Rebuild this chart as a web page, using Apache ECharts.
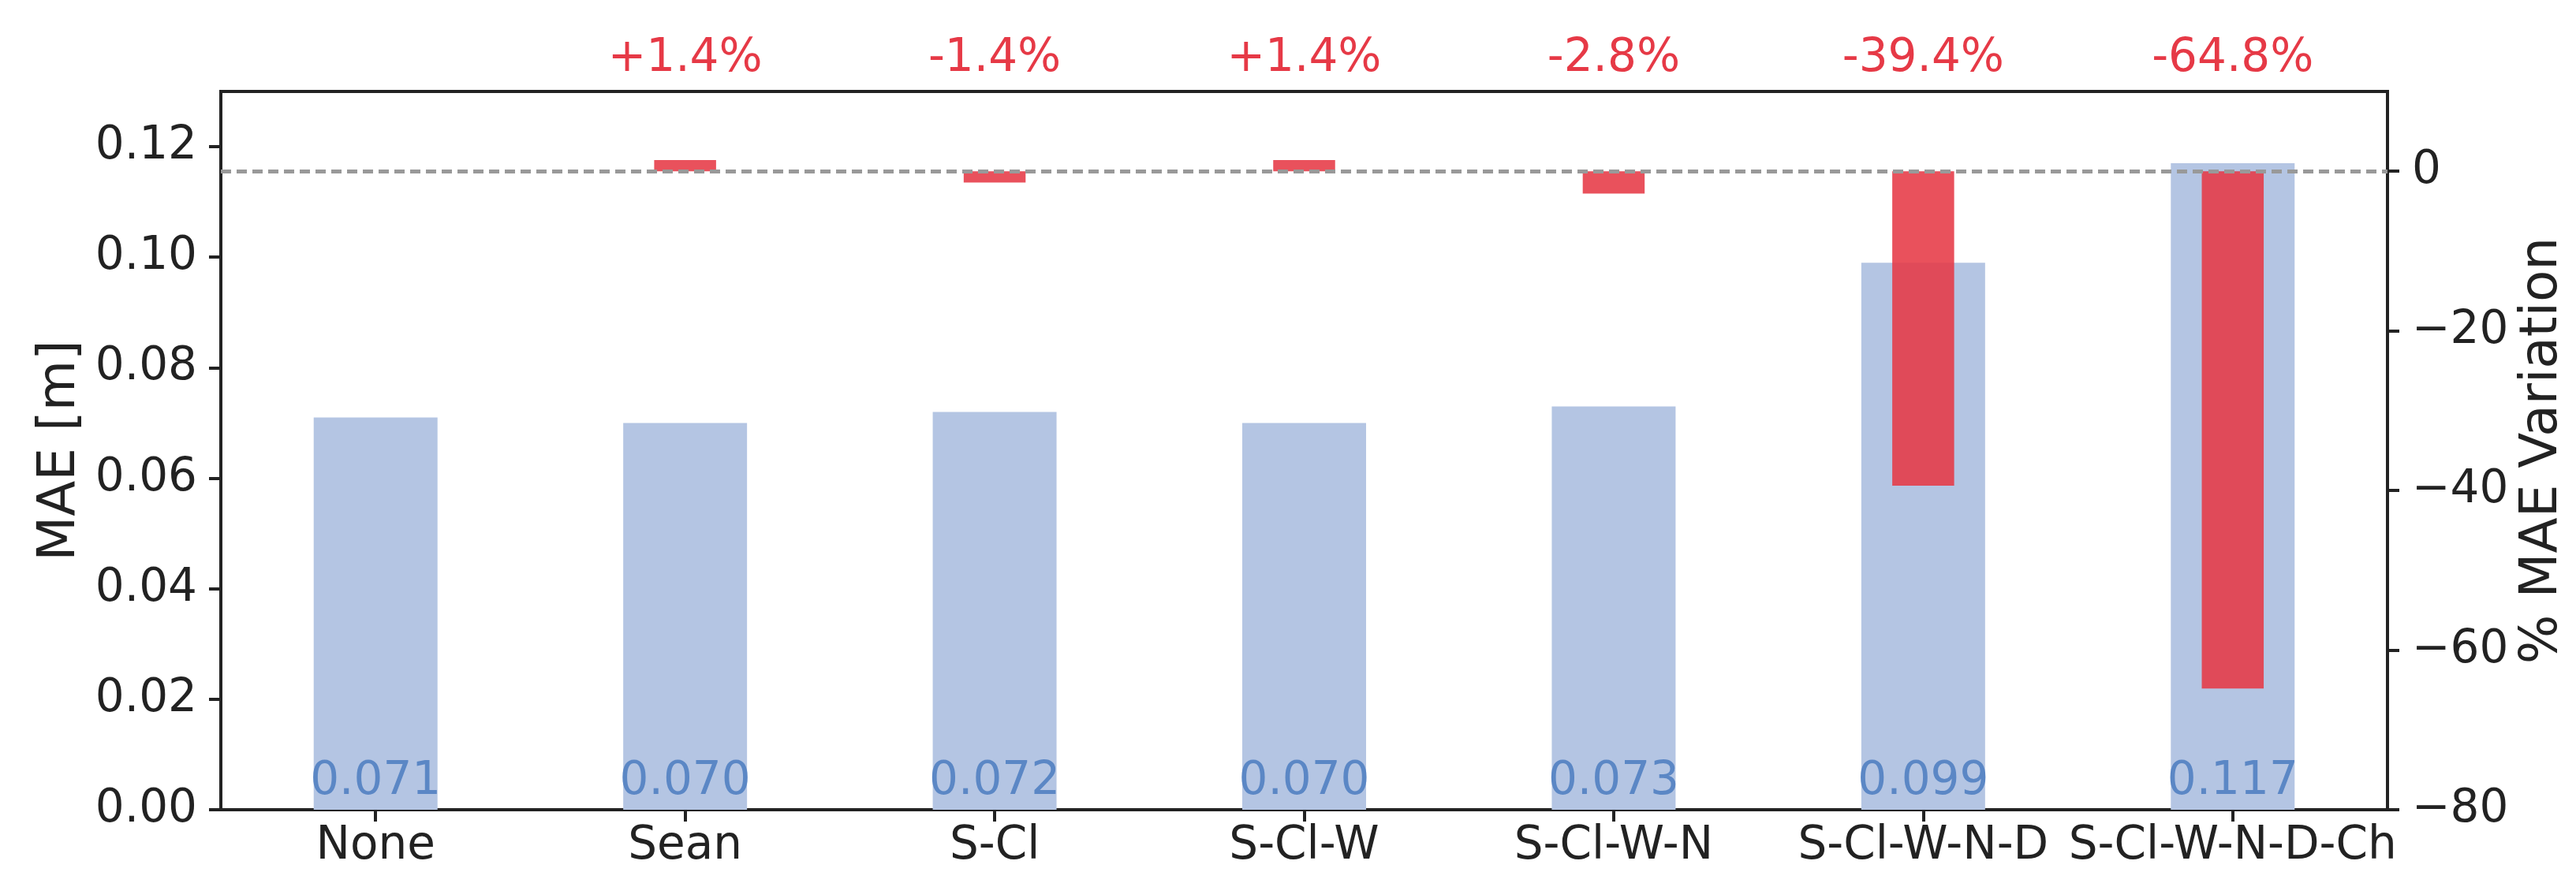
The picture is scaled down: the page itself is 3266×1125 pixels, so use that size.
<!DOCTYPE html>
<html>
<head>
<meta charset="utf-8">
<script src="https://cdn.jsdelivr.net/npm/echarts@6/dist/echarts.min.js"></script>
<style>
html,body{margin:0;padding:0;background:#fff;}
#chart{width:3266px;height:1125px;}
</style>
</head>
<body>
<div id="chart"></div>
<script>
const categories = ['None', 'Sean', 'S-Cl', 'S-Cl-W', 'S-Cl-W-N', 'S-Cl-W-N-D', 'S-Cl-W-N-D-Ch'];
const maeValues = [0.071, 0.070, 0.072, 0.070, 0.073, 0.099, 0.117];
const pctValues = [0, 1.4, -1.4, 1.4, -2.8, -39.4, -64.8];
const pctLabels = ['', '+1.4%', '-1.4%', '+1.4%', '-2.8%', '-39.4%', '-64.8%'];
const leftTicks = [0, 0.02, 0.04, 0.06, 0.08, 0.10, 0.12];
const rightTicks = [-80, -60, -40, -20, 0];

const FONT = 'DejaVu Sans';
const INK = '#222222';

const chart = echarts.init(document.getElementById('chart'), null, {renderer: 'canvas'});
chart.setOption({
  animation: false,
  backgroundColor: '#ffffff',
  grid: {left: 280, right: 239, top: 116, bottom: 98, show: true, borderColor: INK, borderWidth: 4, backgroundColor: 'transparent'},
  xAxis: [
    {
      type: 'category', data: categories, position: 'bottom', boundaryGap: true,
      axisLine: {show: true, lineStyle: {color: INK, width: 4}},
      axisTick: {show: true, alignWithLabel: true, length: 15, lineStyle: {color: INK, width: 4}},
      axisLabel: {interval: 0, fontSize: 58, color: INK, fontFamily: FONT, margin: 18},
      splitLine: {show: false}
    },
    {
      type: 'category', data: categories, position: 'top', boundaryGap: true,
      axisLine: {show: false}, axisTick: {show: false},
      axisLabel: {interval: 0, fontSize: 58, color: '#E63946', fontFamily: FONT, margin: 12,
        formatter: (v, i) => pctLabels[i]},
      splitLine: {show: false}
    }
  ],
  yAxis: [
    {
      type: 'value', min: 0, max: 0.13, interval: 0.02, position: 'left',
      name: 'MAE [m]', nameLocation: 'middle', nameRotate: 90, nameGap: 170,
      nameTextStyle: {fontSize: 66, color: INK, fontFamily: FONT},
      axisLine: {show: true, lineStyle: {color: INK, width: 4}},
      axisTick: {show: true, length: 15, lineStyle: {color: INK, width: 4}, customValues: leftTicks},
      axisLabel: {fontSize: 58, color: INK, fontFamily: FONT, margin: 30,
        customValues: leftTicks, formatter: v => v.toFixed(2)},
      splitLine: {show: false}
    },
    {
      type: 'value', min: -80, max: 10, interval: 20, position: 'right',
      name: '% MAE Variation', nameLocation: 'middle', nameRotate: 90, nameGap: 120,
      nameTextStyle: {fontSize: 66, color: INK, fontFamily: FONT},
      axisLine: {show: true, lineStyle: {color: INK, width: 4}},
      axisTick: {show: true, length: 15, lineStyle: {color: INK, width: 4}, customValues: rightTicks},
      axisLabel: {fontSize: 58, color: INK, fontFamily: FONT, margin: 31,
        customValues: rightTicks, formatter: v => (v < 0 ? '\u2212' + Math.abs(v) : String(v))},
      splitLine: {show: false}
    }
  ],
  series: [
    {
      type: 'bar', xAxisIndex: 0, yAxisIndex: 0, data: maeValues, barWidth: '40%',
      itemStyle: {color: '#b4c5e3'},
      label: {show: true, position: 'insideBottom', distance: 6, fontSize: 58, fontFamily: FONT,
        color: '#5b87c5', formatter: p => p.value.toFixed(3)},
      z: 2
    },
    {
      type: 'bar', xAxisIndex: 1, yAxisIndex: 1, data: pctValues, barWidth: '20%',
      itemStyle: {color: '#E63946', opacity: 0.88},
      markLine: {silent: true, symbol: 'none', label: {show: false},
        lineStyle: {color: '#999999', type: [13, 7], width: 5},
        data: [{yAxis: 0}]},
      z: 3
    }
  ]
});
</script>
</body>
</html>
